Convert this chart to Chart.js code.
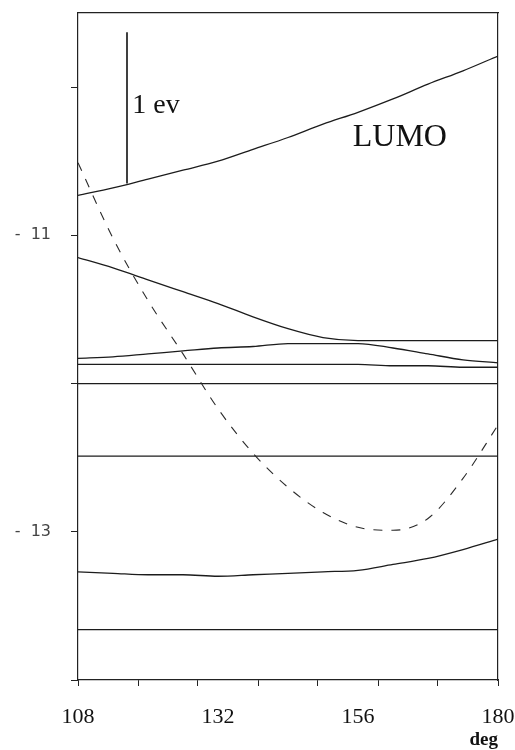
<!DOCTYPE html>
<html>
<head>
<meta charset="utf-8">
<script src="https://cdn.jsdelivr.net/npm/chart.js@4.4.0/dist/chart.umd.min.js"></script>
<style>
  html, body { margin: 0; padding: 0; background: #fff; }
</style>
</head>
<body>
<canvas id="levelChart" width="515" height="750"></canvas>
<script>
// bending angle (deg) and orbital energies (eV)
const angles = [108, 114, 120, 126, 132, 138, 144, 150, 156, 162, 168, 174, 180];
const lumo = [-10.73, -10.68, -10.62, -10.56, -10.50, -10.42, -10.34, -10.25, -10.17, -10.08, -9.98, -9.89, -9.79];
const dashedLevel = [-10.51, -11.02, -11.44, -11.80, -12.17, -12.47, -12.70, -12.87, -12.97, -12.99, -12.91, -12.64, -12.28];
const level2 = [-11.15, -11.22, -11.30, -11.38, -11.46, -11.55, -11.63, -11.69, -11.71, -11.71, -11.71, -11.71, -11.71];
const level3 = [-11.83, -11.82, -11.80, -11.78, -11.76, -11.75, -11.73, -11.73, -11.73, -11.76, -11.80, -11.84, -11.86];
const level4 = [-11.87, -11.87, -11.87, -11.87, -11.87, -11.87, -11.87, -11.87, -11.87, -11.88, -11.88, -11.89, -11.89];
const level5 = [-12.00, -12.00, -12.00, -12.00, -12.00, -12.00, -12.00, -12.00, -12.00, -12.00, -12.00, -12.00, -12.00];
const level6 = [-12.49, -12.49, -12.49, -12.49, -12.49, -12.49, -12.49, -12.49, -12.49, -12.49, -12.49, -12.49, -12.49];
const level7 = [-13.27, -13.28, -13.29, -13.29, -13.30, -13.29, -13.28, -13.27, -13.26, -13.22, -13.18, -13.12, -13.05];
const level8 = [-13.66, -13.66, -13.66, -13.66, -13.66, -13.66, -13.66, -13.66, -13.66, -13.66, -13.66, -13.66, -13.66];

// the "1 ev" scale bar
const scaleBarAngle = [116.4, 116.4];
const scaleBarEnergy = [-9.63, -10.65];

// axis ticks
const xTickMarks = [108, 118.29, 128.57, 138.86, 149.14, 159.43, 169.71, 180];
const xTickLabels = [108, 132, 156, 180];
const yTickMarks = [-14, -13, -12, -11, -10];
const yTickLabels = [-11, -13];

const serif = '"Liberation Serif", "Times New Roman", serif';

const toPoints = (xs, ys) => xs.map((x, i) => ({ x: x, y: ys[i] }));

const solid = (values) => ({
  data: toPoints(angles, values),
  borderColor: "#1c1c1c",
  borderWidth: 1.3,
  pointRadius: 0,
  fill: false,
  cubicInterpolationMode: "monotone",
});

// no automatic padding around the plot area
const noPad = (scale) => {
  scale.paddingLeft = 0;
  scale.paddingRight = 0;
  scale.paddingTop = 0;
  scale.paddingBottom = 0;
};

// text labels inside the plot
const notesPlugin = {
  id: "notes",
  afterDatasetsDraw(chart) {
    const { ctx, scales } = chart;
    ctx.save();
    ctx.fillStyle = "#111";
    ctx.textBaseline = "middle";
    ctx.font = "28px " + serif;
    ctx.fillText("1 ev", scales.x.getPixelForValue(117.3), scales.y.getPixelForValue(-10.125));
    ctx.font = "32px " + serif;
    ctx.fillText("LUMO", scales.x.getPixelForValue(155.1), scales.y.getPixelForValue(-10.34));
    ctx.restore();
  },
};

const ctx = document.getElementById("levelChart").getContext("2d");

new Chart(ctx, {
  type: "line",
  data: {
    datasets: [
      solid(lumo),
      {
        data: toPoints(angles, dashedLevel),
        borderColor: "#2a2a2a",
        borderWidth: 1.1,
        borderDash: [9, 9],
        pointRadius: 0,
        fill: false,
        cubicInterpolationMode: "monotone",
      },
      solid(level2),
      solid(level3),
      solid(level4),
      solid(level5),
      solid(level6),
      solid(level7),
      solid(level8),
      {
        data: toPoints(scaleBarAngle, scaleBarEnergy),
        borderColor: "#111",
        borderWidth: 1.6,
        pointRadius: 0,
        fill: false,
      },
    ],
  },
  options: {
    responsive: false,
    animation: false,
    layout: { padding: { top: 13, right: 17, left: 0, bottom: 0 } },
    plugins: {
      legend: { display: false },
      tooltip: { enabled: false },
    },
    scales: {
      x: {
        type: "linear",
        position: "bottom",
        min: 108,
        max: 180,
        afterBuildTicks: (scale) => {
          scale.ticks = [...xTickMarks, 132, 156]
            .sort((a, b) => a - b)
            .map((v) => ({ value: v }));
        },
        afterFit: (scale) => { scale.height = 70; noPad(scale); },
        ticks: {
          autoSkip: false,
          maxRotation: 0,
          padding: 18,
          color: "#111",
          font: { family: serif, size: 22 },
          callback: (v) => (xTickLabels.includes(v) ? String(v) : ""),
        },
        grid: {
          drawOnChartArea: false,
          tickLength: 6,
          tickColor: (c) => (c.tick && xTickMarks.includes(c.tick.value) ? "#222" : "rgba(0,0,0,0)"),
        },
        border: { color: "#222", width: 1.2 },
        title: {
          display: true,
          text: "deg",
          align: "end",
          color: "#111",
          padding: { top: 0, bottom: 0 },
          font: { family: serif, size: 19, weight: "bold", lineHeight: 1 },
        },
      },
      x2: {
        type: "linear",
        position: "top",
        min: 108,
        max: 180,
        afterFit: (scale) => { scale.height = 0; noPad(scale); },
        ticks: { display: false },
        grid: { drawOnChartArea: false, drawTicks: false },
        border: { color: "#222", width: 1.2 },
      },
      y: {
        type: "linear",
        position: "left",
        min: -14,
        max: -9.5,
        afterBuildTicks: (scale) => {
          scale.ticks = yTickMarks.map((v) => ({ value: v }));
        },
        afterFit: (scale) => { scale.width = 78; noPad(scale); },
        ticks: {
          padding: 20,
          color: "#444",
          font: { family: '"DejaVu Sans", sans-serif', size: 16 },
          callback: (v) => (yTickLabels.includes(v) ? "-  " + Math.abs(v) : ""),
        },
        grid: { drawOnChartArea: false, tickLength: 7, tickColor: "#222" },
        border: { color: "#222", width: 1.2 },
      },
      y2: {
        type: "linear",
        position: "right",
        min: -14,
        max: -9.5,
        afterFit: (scale) => { scale.width = 0; noPad(scale); },
        ticks: { display: false },
        grid: { drawOnChartArea: false, drawTicks: false },
        border: { color: "#222", width: 1.2 },
      },
    },
  },
  plugins: [notesPlugin],
});
</script>
</body>
</html>
